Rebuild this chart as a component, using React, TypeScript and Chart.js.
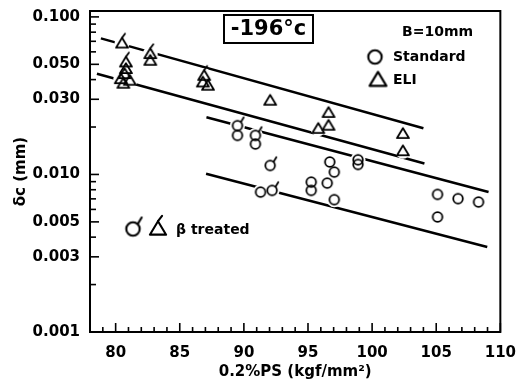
import React, { useEffect, useRef } from 'react';
import { Chart, registerables } from 'chart.js';

Chart.register(...registerables);

const FONT = '"DejaVu Sans", "Liberation Sans", sans-serif';

// ---- Data (x: 0.2%PS kgf/mm², y: δc mm) ----
// Standard, as received (circles)
const STD_X = [89.5, 90.9, 91.3, 95.25, 95.25, 96.7, 97.05, 96.5, 97.05, 98.9, 98.9, 105.1, 106.7, 108.3, 105.1];
const STD_Y = [0.0177, 0.0156, 0.00773, 0.00894, 0.00792, 0.012, 0.01035, 0.00881, 0.00692, 0.01239, 0.01157, 0.00747, 0.00702, 0.00668, 0.00537];
// Standard, β treated
const STD_BETA_X = [89.5, 90.9, 92.05, 92.2];
const STD_BETA_Y = [0.0204, 0.0177, 0.0114, 0.00792];
// ELI (triangles)
const ELI_X = [80.8, 80.7, 80.4, 81.1, 80.6, 82.7, 86.8, 87.2, 92.05, 96.6, 95.8, 96.6, 102.4, 102.4];
const ELI_Y = [0.0467, 0.0434, 0.0403, 0.0394, 0.0377, 0.0527, 0.0384, 0.0366, 0.0294, 0.0246, 0.0195, 0.0204, 0.0181, 0.01405];
// ELI, β treated
const ELI_BETA_X = [80.5, 80.8, 82.7, 86.9];
const ELI_BETA_Y = [0.0678, 0.0514, 0.0581, 0.0423];

// Band lines
const LINE_ELI_UPPER_X = [78.85, 104.0];
const LINE_ELI_UPPER_Y = [0.0731, 0.01964];
const LINE_ELI_LOWER_X = [78.54, 104.08];
const LINE_ELI_LOWER_Y = [0.04357, 0.01174];
const LINE_STD_UPPER_X = [87.08, 109.08];
const LINE_STD_UPPER_Y = [0.02306, 0.00773];
const LINE_STD_LOWER_X = [87.05, 108.98];
const LINE_STD_LOWER_Y = [0.0101, 0.003467];

// Axes
const X_MIN = 78;
const X_MAX = 110;
const Y_MIN = 0.001;
const Y_MAX = 0.109;
const Y_TICKS = [0.001, 0.002, 0.003, 0.004, 0.005, 0.006, 0.007, 0.008, 0.009,
  0.01, 0.02, 0.03, 0.04, 0.05, 0.06, 0.07, 0.08, 0.09, 0.1];
const Y_LABELED = [0.1, 0.05, 0.03, 0.01, 0.005, 0.003, 0.001];

const pts = (xs: number[], ys: number[]) => xs.map((x, i) => ({ x, y: ys[i] }));
const isLabeled = (v: number) => Y_LABELED.some((l) => Math.abs(l - v) / l < 1e-6);

function makeSymbol(kind: 'circle' | 'triangle', tick: boolean, scale = 1): HTMLCanvasElement {
  const s = Math.ceil(26 * scale);
  const c = document.createElement('canvas');
  c.width = s;
  c.height = s;
  const g = c.getContext('2d')!;
  g.translate(s / 2, s / 2);
  g.scale(scale, scale);
  g.strokeStyle = '#000';
  g.lineWidth = 1.8 / Math.sqrt(scale);
  g.lineJoin = 'round';
  g.lineCap = 'round';
  g.beginPath();
  if (kind === 'circle') {
    g.arc(0, 0, 4.8, 0, Math.PI * 2);
    g.stroke();
    if (tick) {
      g.beginPath();
      g.moveTo(3.4, -3.6);
      g.lineTo(6.2, -8.2);
      g.stroke();
    }
  } else {
    g.moveTo(0, -5.8);
    g.lineTo(-6, 4.2);
    g.lineTo(6, 4.2);
    g.closePath();
    g.stroke();
    if (tick) {
      g.beginPath();
      g.moveTo(0, -5.8);
      g.lineTo(3, -9.8);
      g.stroke();
    }
  }
  return c;
}

export default function App() {
  const ref = useRef<HTMLCanvasElement | null>(null);

  useEffect(() => {
    if (!ref.current) return;
    const circ = makeSymbol('circle', false);
    const circT = makeSymbol('circle', true);
    const tri = makeSymbol('triangle', false);
    const triT = makeSymbol('triangle', true);
    const circL = makeSymbol('circle', false, 1.4);
    const triL = makeSymbol('triangle', false, 1.4);
    const circTL = makeSymbol('circle', true, 1.4);
    const triTL = makeSymbol('triangle', true, 1.35);

    const frameTicks = {
      id: 'frameTicks',
      afterDraw(chart: any) {
        const { ctx, chartArea } = chart;
        const { left, right, top, bottom } = chartArea;
        const xs = chart.scales.x;
        const ys = chart.scales.y;
        ctx.save();
        ctx.strokeStyle = '#000';
        ctx.lineWidth = 2;
        ctx.strokeRect(left, top, right - left, bottom - top);
        ctx.lineWidth = 1.6;
        xs.ticks.forEach((t: any) => {
          const px = xs.getPixelForValue(t.value);
          const major = Math.round(t.value) % 5 === 0;
          ctx.beginPath();
          ctx.moveTo(px, bottom);
          ctx.lineTo(px, bottom - (major ? 9 : 5));
          ctx.stroke();
        });
        ys.ticks.forEach((t: any) => {
          const py = ys.getPixelForValue(t.value);
          const major = isLabeled(t.value);
          ctx.beginPath();
          ctx.moveTo(left, py);
          ctx.lineTo(left + (major ? 9 : 6), py);
          ctx.stroke();
        });
        ctx.restore();
      },
    };

    const notes = {
      id: 'notes',
      afterDraw(chart: any) {
        const { ctx } = chart;
        ctx.save();
        ctx.fillStyle = '#000';
        ctx.strokeStyle = '#000';
        // temperature box
        ctx.lineWidth = 2;
        ctx.strokeRect(224, 15, 89, 28);
        ctx.font = `bold 21px ${FONT}`;
        ctx.textAlign = 'center';
        ctx.textBaseline = 'middle';
        ctx.fillText('-196°c', 268.5, 30);
        // legend
        ctx.font = `bold 14px ${FONT}`;
        ctx.textAlign = 'left';
        ctx.fillText('B=10mm', 402, 32);
        ctx.drawImage(circL, 375 - circL.width / 2, 57 - circL.height / 2);
        ctx.fillText('Standard', 393, 57);
        ctx.drawImage(triL, 378 - triL.width / 2, 80 - triL.height / 2);
        ctx.fillText('ELI', 393, 80);
        ctx.drawImage(circTL, 133 - circTL.width / 2, 229 - circTL.height / 2);
        ctx.drawImage(triTL, 158 - triTL.width / 2, 229 - triTL.height / 2);
        ctx.fillText('β treated', 176, 230);
        ctx.restore();
      },
    };

    const halo = (data: any[]) => ({
      type: 'scatter' as const,
      data,
      pointStyle: 'circle',
      pointRadius: 7.5,
      pointBackgroundColor: '#fff',
      pointBorderWidth: 0,
      order: 2,
    });
    const sym = (data: any[], img: HTMLCanvasElement, label: string) => ({
      type: 'scatter' as const,
      label,
      data,
      pointStyle: img,
      pointRadius: 6,
      order: 1,
    });
    const line = (data: any[]) => ({
      type: 'line' as const,
      data,
      borderColor: '#000',
      borderWidth: 2.5,
      pointRadius: 0,
      fill: false,
      order: 3,
    });

    const std = pts(STD_X, STD_Y);
    const stdB = pts(STD_BETA_X, STD_BETA_Y);
    const eli = pts(ELI_X, ELI_Y);
    const eliB = pts(ELI_BETA_X, ELI_BETA_Y);

    const chart = new Chart(ref.current, {
      type: 'scatter',
      data: {
        datasets: [
          line(pts(LINE_ELI_UPPER_X, LINE_ELI_UPPER_Y)),
          line(pts(LINE_ELI_LOWER_X, LINE_ELI_LOWER_Y)),
          line(pts(LINE_STD_UPPER_X, LINE_STD_UPPER_Y)),
          line(pts(LINE_STD_LOWER_X, LINE_STD_LOWER_Y)),
          halo(std), halo(stdB), halo(eli), halo(eliB),
          sym(std, circ, 'Standard'),
          sym(stdB, circT, 'Standard β treated'),
          sym(eli, tri, 'ELI'),
          sym(eliB, triT, 'ELI β treated'),
        ] as any,
      },
      options: {
        responsive: false,
        animation: false,
        devicePixelRatio: 1,
        layout: { padding: { top: 10, right: 15, left: 0, bottom: 0 } },
        plugins: { legend: { display: false }, tooltip: { enabled: false } },
        scales: {
          x: {
            type: 'linear',
            min: X_MIN,
            max: X_MAX,
            grid: { display: false },
            border: { display: false },
            ticks: {
              stepSize: 1,
              autoSkip: false,
              maxRotation: 0,
              padding: 4,
              color: '#000',
              font: { family: FONT, size: 15, weight: 'bold' },
              callback: (v: any) => (Math.round(v) % 5 === 0 ? String(v) : ''),
            },
            title: {
              display: true,
              text: '0.2%PS (kgf/mm²)',
              color: '#000',
              font: { family: FONT, size: 15, weight: 'bold' },
              padding: { top: 0, bottom: 2 },
            },
            afterFit: (s: any) => { s.height = 51; },
          },
          y: {
            type: 'logarithmic',
            min: Y_MIN,
            max: Y_MAX,
            grid: { display: false },
            border: { display: false },
            afterBuildTicks: (s: any) => { s.ticks = Y_TICKS.map((v) => ({ value: v })); },
            ticks: {
              autoSkip: false,
              padding: 2,
              color: '#000',
              font: { family: FONT, size: 15, weight: 'bold' },
              callback: (v: any) => (isLabeled(Number(v)) ? Number(v).toFixed(3) : ''),
            },
            title: {
              display: true,
              text: 'δc (mm)',
              color: '#000',
              font: { family: FONT, size: 15, weight: 'bold' },
              padding: { top: 12, bottom: 0 },
            },
            afterFit: (s: any) => { s.width = 90; },
          },
        },
      } as any,
      plugins: [frameTicks, notes],
    });
    return () => chart.destroy();
  }, []);

  return (
    <div style={{ position: 'absolute', left: 0, top: 0, width: 520, height: 383, background: '#fff' }}>
      <canvas ref={ref} width={520} height={383} />
    </div>
  );
}
